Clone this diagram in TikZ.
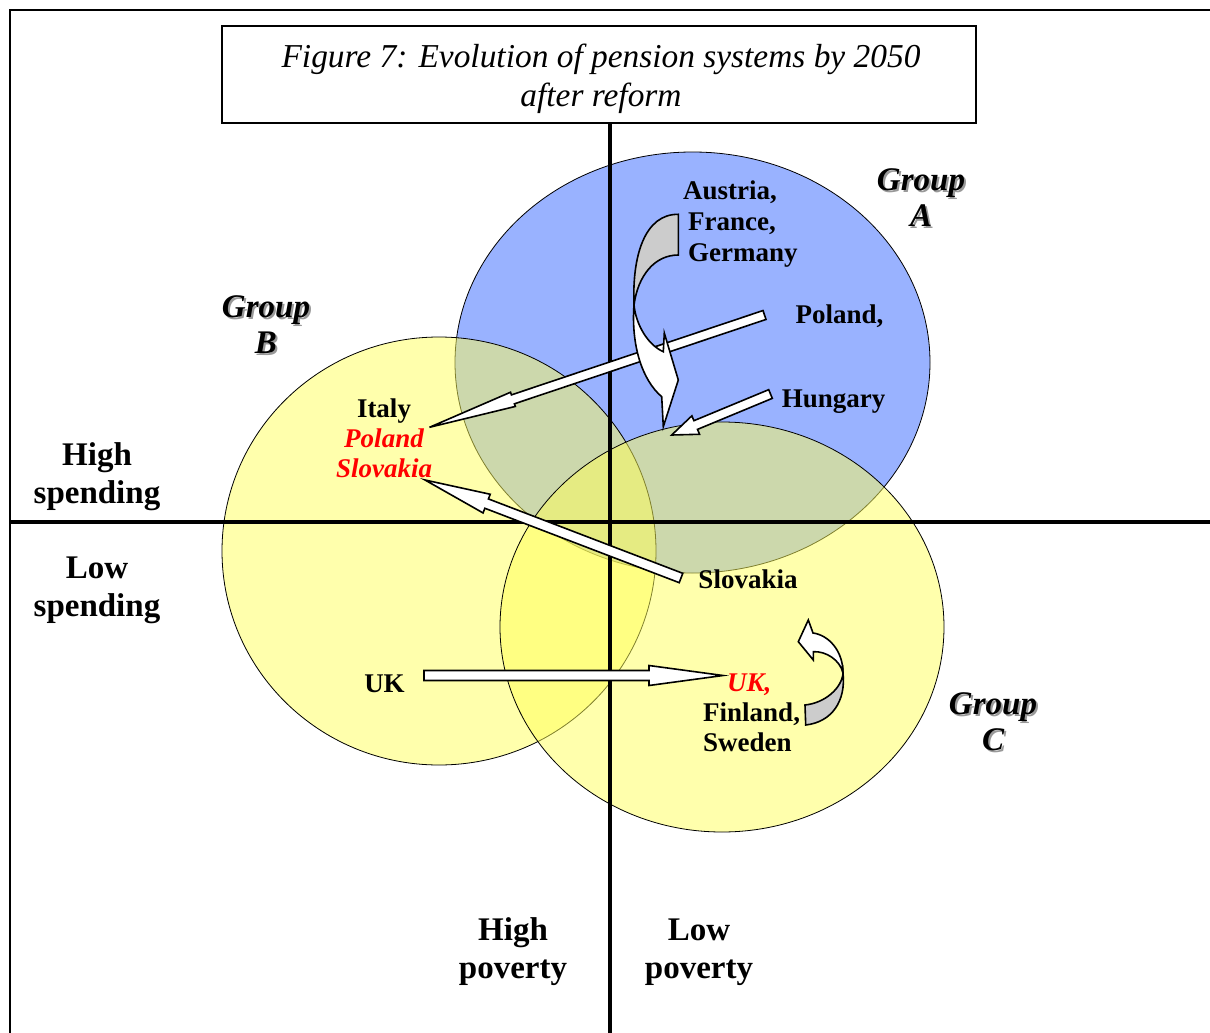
\documentclass[tikz,border=0pt]{standalone}
\usepackage{fontspec}
\setmainfont{Liberation Serif}
\usetikzlibrary{calc}
\definecolor{grpblue}{RGB}{153,178,255}
\definecolor{grpyellow}{RGB}{255,255,90}
\definecolor{ribbongray}{RGB}{204,204,204}
\tikzset{
  circ/.style={draw=black, line width=0.8pt},
  axisline/.style={line width=3.2pt},
  blockarr/.style={draw=black, fill=white, line width=1.6pt, line join=miter},
  ribbonback/.style={draw=black, fill=ribbongray, line width=1.6pt, line join=miter},
  ribbonfront/.style={draw=black, fill=white, line width=1.6pt, line join=miter},
  lbl/.style={font=\fontsize{27}{30}\selectfont\bfseries, inner sep=0pt, align=center},
  biglbl/.style={font=\fontsize{33}{38}\selectfont\bfseries, inner sep=0pt, align=center},
  grp/.style={font=\fontsize{33}{36}\selectfont\bfseries\itshape, inner sep=0pt, align=center},
  grpshadow/.style={grp, text=black!40},
}
\newcommand{\blkarr}[5]{%
  \coordinate (bah) at ($(#2)!#5!(#1)$);
  \draw[blockarr] ($(#1)!#3!90:(#2)$) -- ($(bah)!#3!90:(#2)$) -- ($(bah)!#4!90:(#2)$) -- (#2)
    -- ($(bah)!#4!-90:(#2)$) -- ($(bah)!#3!-90:(#2)$) -- ($(#1)!#3!-90:(#2)$) -- cycle;
}
\begin{document}
\begin{tikzpicture}[x=1pt,y=-1pt]
\useasboundingbox (0,0) rectangle (1210,1033);
\fill[white] (0,0) rectangle (1210,1033);
% frame
\draw[line width=2pt] (10,10) rectangle (1230,1050);
% title
\node[draw, line width=1.5pt, minimum width=754pt, minimum height=97pt, inner sep=0pt] (title) at (599,74.5) {};
\node[font=\fontsize{33.4}{39}\selectfont\itshape, align=center, inner sep=0pt] (titletext) at (601,79)
      {Figure 7: Evolution of pension systems by 2050\\after reform};
% groups
\draw[circ, fill=grpblue] (692.5,362.5) ellipse [x radius=237.5, y radius=210.5];
\draw[circ, fill=grpyellow, fill opacity=0.5] (439,551) ellipse [x radius=217, y radius=214];
\draw[circ, fill=grpyellow, fill opacity=0.5] (722,627) ellipse [x radius=222, y radius=205];
% axes
\draw[axisline] (610,123) -- (610,1040);
\draw[axisline] (10,522) -- (1215,522);
% arrow end points
\coordinate (polT) at (764.5,315);
\coordinate (polH) at (429.5,427.3);
\coordinate (hunT) at (770.5,394);
\coordinate (hunH) at (671.7,435);
\coordinate (sloT) at (681,578);
\coordinate (sloH) at (425,480);
\coordinate (ukT) at (424,675.5);
\coordinate (ukH) at (723,675.5);
% straight block arrows
\blkarr{polT}{polH}{4.7pt}{7.5pt}{88pt}
% big curved arrow (group A)
\draw[ribbonback] (678.3,214.3) -- (678.3,255) .. controls (655,255) and (638,275) .. (634,305)
   .. controls (632,255) and (645,214) .. (678.3,214.3) -- cycle;
\draw[ribbonfront] (634,305) .. controls (631,345) and (642,380) .. (661.7,396.7)
   -- (663.3,426.7) -- (678.3,380) -- (664.3,333) -- (663.3,351.7)
   .. controls (648,345) and (636,325) .. (634,305) -- cycle;
\blkarr{hunT}{hunH}{4.7pt}{10pt}{26pt}
\blkarr{sloT}{sloH}{5pt}{10pt}{66pt}
\blkarr{ukT}{ukH}{5pt}{10pt}{74pt}
% small curved arrow (group C)
\draw[ribbonback] (805,705) -- (805.7,725) .. controls (832,722) and (846,701) .. (843,673)
   .. controls (842,688) and (825,703) .. (805,705) -- cycle;
\draw[ribbonfront] (843,673) .. controls (843,650) and (828,635) .. (813,633)
   -- (808.3,620) -- (798.3,641.7) -- (813.3,660) -- (813.3,651.7)
   .. controls (826,651) and (840,660) .. (843,673) -- cycle;
% axis labels
\node[biglbl] (hs) at (97,477) {High\\spending};
\node[biglbl] (ls) at (97,590) {Low\\spending};
\node[biglbl] (hp) at (513,952) {High\\poverty};
\node[biglbl] (lp) at (699,952) {Low\\poverty};
% group labels
\node[grpshadow] (gas) at (923,200) {Group\\A};
\node[grp] (ga) at (921,198) {Group\\A};
\node[grpshadow] (gbs) at (268,327) {Group\\B};
\node[grp] (gb) at (266,325) {Group\\B};
\node[grpshadow] (gcs) at (995,724) {Group\\C};
\node[grp] (gc) at (993,722) {Group\\C};
% country labels
\node[lbl, font=\fontsize{27}{31}\selectfont\bfseries, align=left, anchor=west] (aff) at (683,224)
   {Austria,\\ \hspace*{5pt}France,\\ \hspace*{5pt}Germany};
\node[lbl] (pol) at (839.5,316) {Poland,};
\node[lbl] (hun) at (833.5,402) {Hungary};
\node[lbl] (ips) at (384,438) {Italy\\ \textcolor{red}{\itshape Poland}\\ \textcolor{red}{\itshape Slovakia}};
\node[lbl] (slo) at (748,579) {Slovakia};
\node[lbl] (uk) at (384.5,684) {UK};
\node[lbl, align=left, anchor=west] (ufs) at (703,713) {\hspace*{24pt}\textcolor{red}{\itshape UK,}\\ Finland,\\ Sweden};
\end{tikzpicture}
\end{document}
